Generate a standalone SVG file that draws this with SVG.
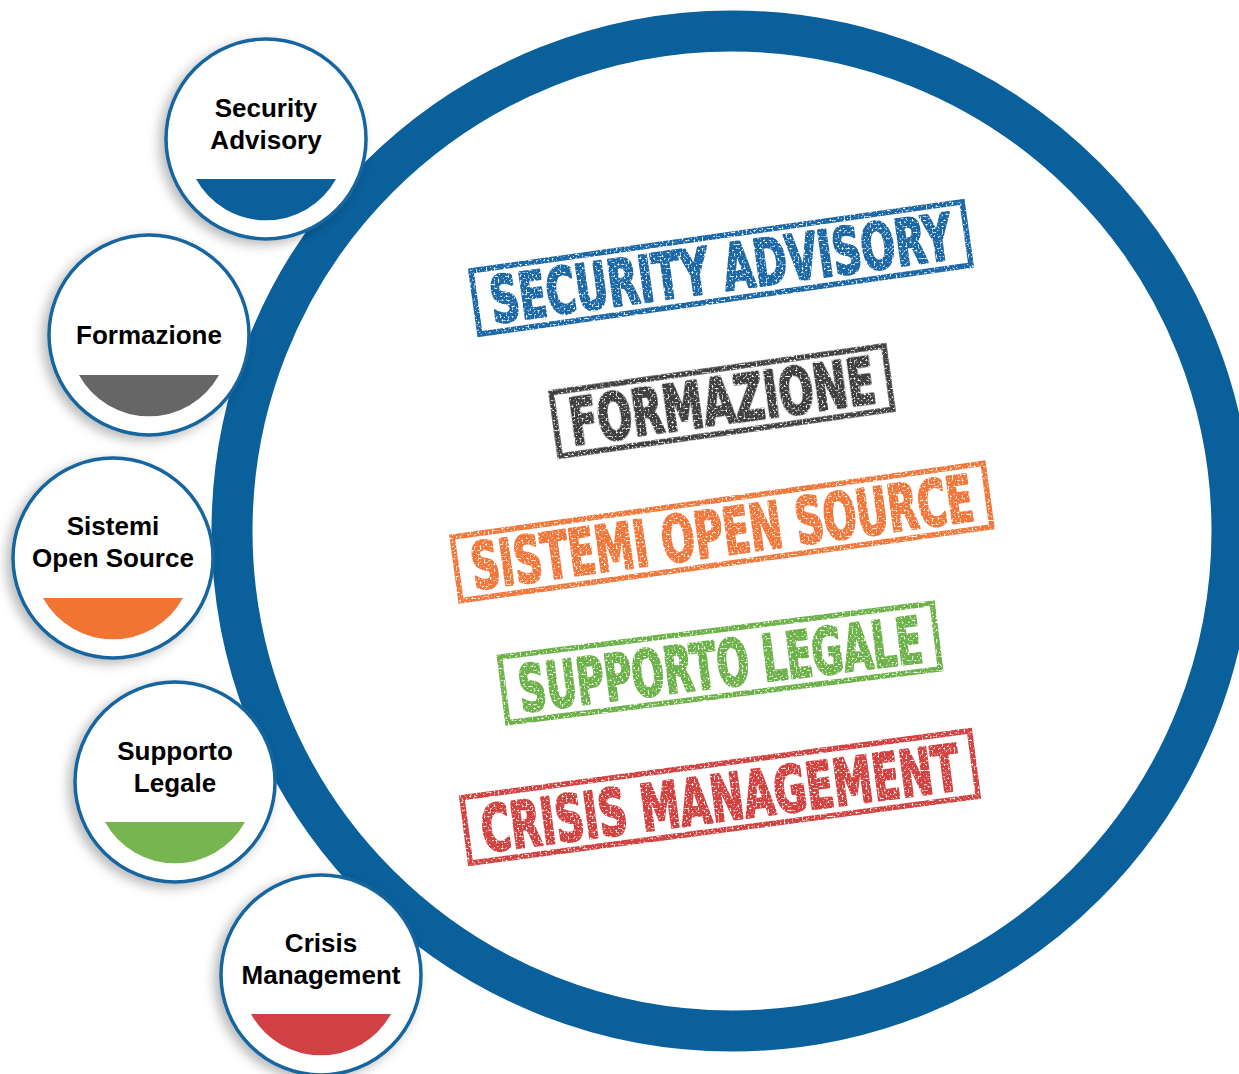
<svg xmlns="http://www.w3.org/2000/svg" width="1239" height="1074" viewBox="0 0 1239 1074">
<style>
.node-ring{fill:#ffffff;stroke:#16659f;stroke-width:3.5}
.lbl{font-family:"Liberation Sans",Arial,sans-serif;font-weight:bold;font-size:26px;fill:#000000;text-anchor:middle}
.stamp-box{fill:none;stroke-width:5.5}
.stamp-txt{font-family:"Liberation Sans Narrow","DejaVu Sans Condensed","Liberation Sans",sans-serif;font-weight:bold;font-size:64px;text-anchor:middle;stroke-width:2.6;stroke-linejoin:round}
</style>
<defs>
<filter id="shadow" x="-30%" y="-30%" width="160%" height="160%">
<feDropShadow dx="-5" dy="4" stdDeviation="6" flood-color="#000000" flood-opacity="0.28"/>
</filter>
<filter id="grunge" x="-10%" y="-10%" width="120%" height="120%">
<feTurbulence type="fractalNoise" baseFrequency="0.5" numOctaves="2" seed="7" result="noise"/>
<feColorMatrix in="noise" type="matrix" values="0 0 0 0 0  0 0 0 0 0  0 0 0 0 0  0 0 0 -4.5 3.4" result="mask"/>
<feComposite in="SourceGraphic" in2="mask" operator="in"/>
</filter>
</defs>
<rect width="1239" height="1074" fill="#ffffff"/>

<g id="main-ring">
<circle cx="732" cy="531" r="500" fill="none" stroke="#09609b" stroke-width="41"/>
</g>

<g id="stamps" filter="url(#grunge)">
<g id="stamp-security" transform="translate(721,268) rotate(-8)">
<rect class="stamp-box" x="-248" y="-32" width="496" height="64" stroke="#1c68a6"/>
<text class="stamp-txt" x="0" y="23" fill="#1c68a6" stroke="#1c68a6" textLength="466" lengthAdjust="spacingAndGlyphs">SECURITY ADVISORY</text>
</g>
<g id="stamp-formazione" transform="translate(722,401) rotate(-8)">
<rect class="stamp-box" x="-168" y="-32" width="336" height="64" stroke="#3f3f3f"/>
<text class="stamp-txt" x="0" y="23" fill="#3f3f3f" stroke="#3f3f3f" textLength="308" lengthAdjust="spacingAndGlyphs">FORMAZIONE</text>
</g>
<g id="stamp-sistemi" transform="translate(722,532) rotate(-7.9)">
<rect class="stamp-box" x="-268" y="-32" width="536" height="64" stroke="#f2773a"/>
<text class="stamp-txt" x="0" y="23" fill="#f2773a" stroke="#f2773a" textLength="506" lengthAdjust="spacingAndGlyphs">SISTEMI OPEN SOURCE</text>
</g>
<g id="stamp-supporto" transform="translate(720,663) rotate(-7.1)">
<rect class="stamp-box" x="-218" y="-33" width="436" height="66" stroke="#6db24a"/>
<text class="stamp-txt" x="0" y="24" fill="#6db24a" stroke="#6db24a" textLength="406" lengthAdjust="spacingAndGlyphs">SUPPORTO LEGALE</text>
</g>
<g id="stamp-crisis" transform="translate(720,797) rotate(-7.5)">
<rect class="stamp-box" x="-256" y="-33" width="512" height="66" stroke="#d24340"/>
<text class="stamp-txt" x="0" y="24" fill="#d24340" stroke="#d24340" textLength="482" lengthAdjust="spacingAndGlyphs">CRISIS MANAGEMENT</text>
</g>
</g>

<g id="connectors"></g>

<g id="node-security">
<circle class="node-ring" cx="266" cy="139" r="100" filter="url(#shadow)"/>
<path d="M196,179 L336,179 A80,80 0 0 1 196,179 Z" fill="#09609b"/>
<text class="lbl" x="266" y="117">Security</text>
<text class="lbl" x="266" y="149">Advisory</text>
</g>

<g id="node-formazione">
<circle class="node-ring" cx="149" cy="335" r="100" filter="url(#shadow)"/>
<path d="M79,375 L219,375 A80,80 0 0 1 79,375 Z" fill="#666666"/>
<text class="lbl" x="149" y="344">Formazione</text>
</g>

<g id="node-sistemi">
<circle class="node-ring" cx="113" cy="558" r="100" filter="url(#shadow)"/>
<path d="M43,598 L183,598 A80,80 0 0 1 43,598 Z" fill="#f27432"/>
<text class="lbl" x="113" y="535">Sistemi</text>
<text class="lbl" x="113" y="567">Open Source</text>
</g>

<g id="node-supporto">
<circle class="node-ring" cx="175" cy="782" r="100" filter="url(#shadow)"/>
<path d="M105,822 L245,822 A80,80 0 0 1 105,822 Z" fill="#77b550"/>
<text class="lbl" x="175" y="760">Supporto</text>
<text class="lbl" x="175" y="792">Legale</text>
</g>

<g id="node-crisis">
<circle class="node-ring" cx="321" cy="975" r="100" filter="url(#shadow)"/>
<path d="M251,1014 L391,1014 A80,80 0 0 1 251,1014 Z" fill="#d04044"/>
<text class="lbl" x="321" y="952">Crisis</text>
<text class="lbl" x="321" y="984">Management</text>
</g>
</svg>
